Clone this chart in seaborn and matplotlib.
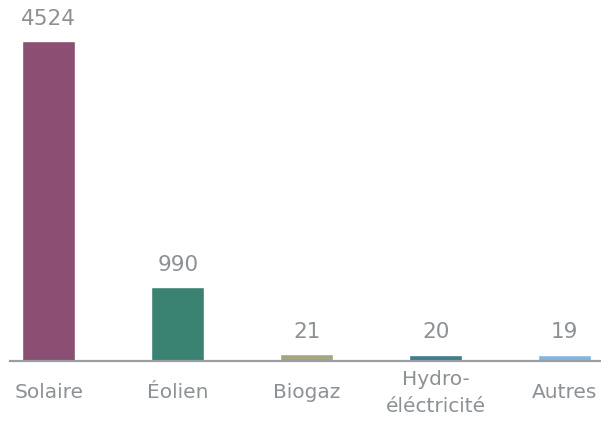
import matplotlib
matplotlib.use("Agg")
import numpy as np
import pandas as pd
import matplotlib.pyplot as plt
import seaborn as sns

categories = ["Solaire", "Éolien", "Biogaz", "Hydro-\néléctricité", "Autres"]
values = [4524, 990, 21, 20, 19]
colors = ["#8a4f72", "#3a8372", "#a6a57e", "#3f7b8b", "#84b4e0"]

text_gray = "#8c9196"
line_gray = "#9a9ea2"

df = pd.DataFrame({"source": categories, "mw": values})

sns.set_style("white")
plt.rcParams["font.family"] = ["DejaVu Sans"]

fig = plt.figure(figsize=(6.01, 4.21), dpi=100)
ax = fig.add_axes([10 / 601, 60 / 421, 591 / 601, 361 / 421])

# minimum visible height for tiny bars: shift positive values up a bit
offset = 73
ax.set_yscale("function",
              functions=(lambda v: np.where(v > 0, v + offset, v),
                         lambda t: np.where(t > offset, t - offset, t)))

sns.barplot(data=df, x="source", y="mw", hue="source", palette=colors,
            width=0.41, saturation=1, legend=False, ax=ax)

for c in ax.containers:
    ax.bar_label(c, padding=9, fontsize=15.5, color=text_gray)

ax.set_xlim(-0.30, 4.28)
ax.set_ylim(0, 5115)
ax.set_xlabel("")
ax.set_ylabel("")
ax.set_yticks([])
ax.tick_params(axis="x", length=0, pad=23, labelsize=14.5, labelcolor=text_gray)
for lbl in ax.get_xticklabels():
    lbl.set_va("center")
    lbl.set_linespacing(1.55)

for s in ["top", "right", "left"]:
    ax.spines[s].set_visible(False)
ax.spines["bottom"].set_color(line_gray)
ax.spines["bottom"].set_linewidth(1.6)

fig.savefig("out.png", dpi=100)
